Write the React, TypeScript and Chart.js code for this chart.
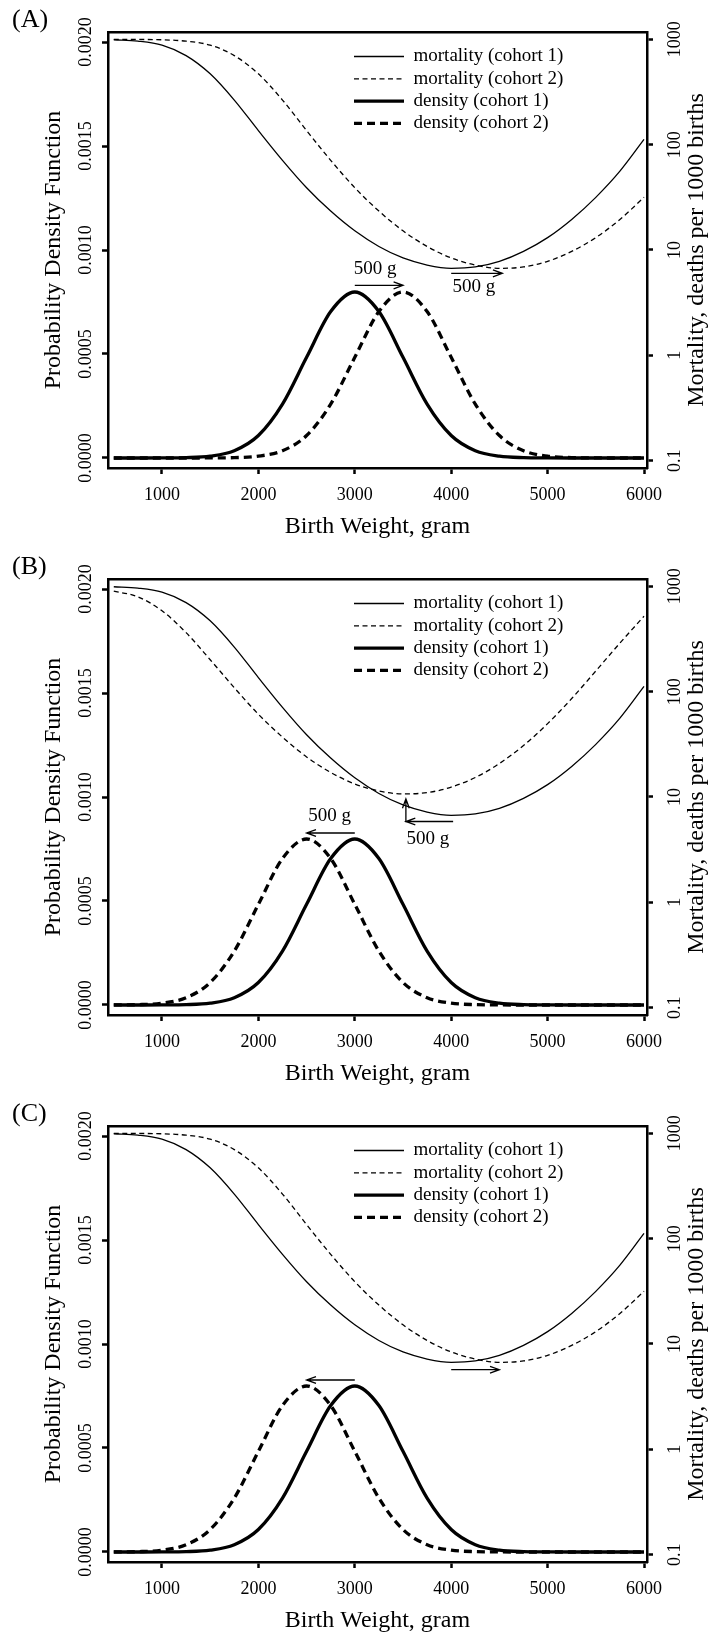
import React, { useEffect, useRef } from "react";
import { Chart, registerables } from "chart.js";

Chart.register(...registerables);

const SERIF = "'Liberation Serif', 'Times New Roman', Times, serif";

// ---------------- data ----------------
const birthWeights = [500, 750, 1000, 1250, 1500, 1750, 2000, 2250, 2500, 2750, 3000, 3250, 3500, 3750, 4000, 4250, 4500, 4750, 5000, 5250, 5500, 5750, 6000];

const xTickValues = [1000, 2000, 3000, 4000, 5000, 6000];
const densityTickValues = [0, 0.0005, 0.001, 0.0015, 0.002];
const mortalityTickValues = [0.1, 1, 10, 100, 1000];

// mortality, deaths per 1000 births
const mortalityCohort1 = [990, 960, 880, 700, 470, 265, 136, 71, 39, 23.4, 15.2, 10.8, 8.4, 7.2, 6.7, 6.9, 7.8, 9.7, 13.1, 19.5, 31.6, 56, 112];
const mortalityCohort2A = [999, 997, 990, 960, 880, 700, 470, 265, 136, 71, 39, 23.4, 15.2, 10.8, 8.4, 7.2, 6.7, 6.9, 7.8, 9.7, 13.1, 19.5, 31.6];
const mortalityCohort2B = [900, 794, 586, 363, 201, 109, 61, 37, 24, 17.1, 13.3, 11.4, 10.7, 11.0, 12.4, 15.3, 20.8, 30.8, 49.7, 86, 157, 289, 520];
const mortalityCohort2C = [999, 997, 990, 960, 880, 700, 470, 265, 136, 71, 39, 23.4, 15.2, 10.8, 8.4, 7.2, 6.7, 6.9, 7.8, 9.7, 13.1, 19.5, 31.6];

// probability density
const densityCohort1 = [0, 0, 0.0000003, 0.0000017, 0.0000089, 0.000035, 0.000108, 0.000259, 0.000484, 0.000704, 0.000798, 0.000704, 0.000484, 0.000259, 0.000108, 0.000035, 0.0000089, 0.0000017, 0.0000003, 0, 0, 0, 0];
const densityCohort2A = [0, 0, 0, 0, 0.0000003, 0.0000017, 0.0000089, 0.000035, 0.000108, 0.000259, 0.000484, 0.000704, 0.000798, 0.000704, 0.000484, 0.000259, 0.000108, 0.000035, 0.0000089, 0.0000017, 0.0000003, 0, 0];
const densityCohort2B = [0.0000003, 0.0000017, 0.0000089, 0.000035, 0.000108, 0.000259, 0.000484, 0.000704, 0.000798, 0.000704, 0.000484, 0.000259, 0.000108, 0.000035, 0.0000089, 0.0000017, 0.0000003, 0, 0, 0, 0, 0, 0];
const densityCohort2C = [0.0000003, 0.0000017, 0.0000089, 0.000035, 0.000108, 0.000259, 0.000484, 0.000704, 0.000798, 0.000704, 0.000484, 0.000259, 0.000108, 0.000035, 0.0000089, 0.0000017, 0.0000003, 0, 0, 0, 0, 0, 0];

const legendLabels = ["mortality (cohort 1)", "mortality (cohort 2)", "density (cohort 1)", "density (cohort 2)"];
const panelLetters = ["(A)", "(B)", "(C)"];
const xTitle = "Birth Weight, gram";
const leftTitle = "Probability Density Function";
const rightTitle = "Mortality, deaths per 1000 births";
const shiftText = "500 g";

// annotation arrows in data units: [x1, y1, x2, y2]
const arrowsA = { density: [[3000, 0.00083, 3500, 0.00083]], mortality: [[4000, 6.0, 4530, 6.0]] };
const notesA = { density: [[3210, 0.00091]], mortality: [[4235, 4.5]] };
const arrowsB = { density: [[3000, 0.000827, 2500, 0.000827]], mortality: [[4020, 5.85, 3530, 5.85], [3530, 5.75, 3530, 9.6]] };
const notesB = { density: [[2740, 0.00091]], mortality: [[3757, 3.95]] };
const arrowsC = { density: [[3000, 0.000827, 2500, 0.000827]], mortality: [[4000, 5.7, 4500, 5.7]] };
const notesC = { density: [] as number[][], mortality: [] as number[][] };

// ---------------- layout ----------------
const W = 719;
const PANEL_TOPS = [0, 547, 1094];
const PANEL_HEIGHTS = [547, 547, 541];
const PLOT_LEFT = 108;
const PLOT_RIGHT = 647;
const PLOT_TOP = 32;
const PLOT_BOTTOM = 468;

const panels = [
  { m2: mortalityCohort2A, d2: densityCohort2A, arrows: arrowsA, notes: notesA },
  { m2: mortalityCohort2B, d2: densityCohort2B, arrows: arrowsB, notes: notesB },
  { m2: mortalityCohort2C, d2: densityCohort2C, arrows: arrowsC, notes: notesC },
];

const toXY = (vals: number[]) => birthWeights.map((w, i) => ({ x: w, y: vals[i] }));

function drawArrow(ctx: CanvasRenderingContext2D, x1: number, y1: number, x2: number, y2: number) {
  const ang = Math.atan2(y2 - y1, x2 - x1);
  const len = 10;
  const spread = (20 * Math.PI) / 180;
  ctx.beginPath();
  ctx.moveTo(x1, y1);
  ctx.lineTo(x2, y2);
  ctx.moveTo(x2 - len * Math.cos(ang - spread), y2 - len * Math.sin(ang - spread));
  ctx.lineTo(x2, y2);
  ctx.lineTo(x2 - len * Math.cos(ang + spread), y2 - len * Math.sin(ang + spread));
  ctx.stroke();
}

function makeDecor(idx: number) {
  const p = panels[idx];
  return {
    id: "panelDecor" + idx,
    beforeDraw(chart: any) {
      const lg = chart.legend;
      if (lg) {
        lg.left = 350.7;
        lg.top = 43.7;
        lg.right = 630;
        lg.bottom = 260;
      }
    },
    afterDraw(chart: any) {
      const ctx: CanvasRenderingContext2D = chart.ctx;
      const xs = chart.scales.x;
      const ys = chart.scales.y;
      const y2s = chart.scales.y2;
      ctx.save();
      ctx.strokeStyle = "black";
      ctx.fillStyle = "black";
      ctx.lineWidth = 1.3;
      ctx.setLineDash([]);
      for (const a of p.arrows.density) {
        drawArrow(ctx, xs.getPixelForValue(a[0]), ys.getPixelForValue(a[1]), xs.getPixelForValue(a[2]), ys.getPixelForValue(a[3]));
      }
      for (const a of p.arrows.mortality) {
        drawArrow(ctx, xs.getPixelForValue(a[0]), y2s.getPixelForValue(a[1]), xs.getPixelForValue(a[2]), y2s.getPixelForValue(a[3]));
      }
      ctx.font = `19px ${SERIF}`;
      ctx.textAlign = "center";
      ctx.textBaseline = "middle";
      for (const n of p.notes.density) {
        ctx.fillText(shiftText, xs.getPixelForValue(n[0]), ys.getPixelForValue(n[1]));
      }
      for (const n of p.notes.mortality) {
        ctx.fillText(shiftText, xs.getPixelForValue(n[0]), y2s.getPixelForValue(n[1]));
      }
      // right axis title (reads bottom to top)
      const ca = chart.chartArea;
      ctx.save();
      ctx.translate(ca.right + 50, (ca.top + ca.bottom) / 2);
      ctx.rotate(-Math.PI / 2);
      ctx.font = `24px ${SERIF}`;
      ctx.fillText(rightTitle, 0, 0);
      ctx.restore();
      // panel letter
      ctx.font = `26px ${SERIF}`;
      ctx.textAlign = "left";
      ctx.textBaseline = "alphabetic";
      ctx.fillText(panelLetters[idx], 12, 27);
      ctx.restore();
    },
  };
}

function Panel({ idx }: { idx: number }) {
  const ref = useRef<HTMLCanvasElement | null>(null);
  const H = PANEL_HEIGHTS[idx];
  useEffect(() => {
    const p = panels[idx];
    const grid = {
      display: true,
      drawOnChartArea: false,
      drawTicks: true,
      tickLength: 6,
      tickWidth: 2.5,
      tickColor: "black",
    };
    const border = { display: true, color: "black", width: 2.5 };
    const chart = new Chart(ref.current as HTMLCanvasElement, {
      type: "line",
      data: {
        datasets: [
          { label: legendLabels[0], data: toXY(mortalityCohort1), yAxisID: "y2", borderColor: "black", borderWidth: 1.3, pointRadius: 0, cubicInterpolationMode: "monotone", fill: false },
          { label: legendLabels[1], data: toXY(p.m2), yAxisID: "y2", borderColor: "black", borderWidth: 1.3, borderDash: [5, 3.5], pointRadius: 0, cubicInterpolationMode: "monotone", fill: false },
          { label: legendLabels[2], data: toXY(densityCohort1), yAxisID: "y", borderColor: "black", borderWidth: 3.3, pointRadius: 0, cubicInterpolationMode: "monotone", fill: false },
          { label: legendLabels[3], data: toXY(p.d2), yAxisID: "y", borderColor: "black", borderWidth: 3.3, borderDash: [8, 5], pointRadius: 0, cubicInterpolationMode: "monotone", fill: false },
        ] as any,
      },
      options: {
        animation: false,
        responsive: false,
        devicePixelRatio: 1,
        events: [],
        layout: { padding: 0, autoPadding: false },
        plugins: {
          tooltip: { enabled: false },
          title: { display: false },
          legend: {
            display: true,
            position: "chartArea",
            align: "start",
            labels: {
              usePointStyle: true,
              pointStyle: "line",
              pointStyleWidth: 50,
              boxHeight: 19,
              padding: 3.3,
              color: "black",
              font: { family: SERIF, size: 19 },
              generateLabels: (c: any) =>
                c.data.datasets.map((ds: any, i: number) => ({
                  text: ds.label,
                  datasetIndex: i,
                  fillStyle: "black",
                  strokeStyle: "black",
                  fontColor: "black",
                  lineWidth: ds.borderWidth,
                  lineDash: ds.borderDash || [],
                  lineCap: "butt",
                  pointStyle: "line",
                  hidden: false,
                })),
            },
          },
        } as any,
        scales: {
          x: {
            type: "linear",
            position: "bottom",
            min: 440,
            max: 6031,
            bounds: "data",
            afterBuildTicks: (s: any) => {
              s.ticks = xTickValues.map((v) => ({ value: v }));
            },
            afterFit: (s: any) => {
              s.height = H - PLOT_BOTTOM;
            },
            ticks: { autoSkip: false, maxRotation: 0, minRotation: 0, padding: 10, color: "black", font: { family: SERIF, size: 18 }, callback: (v: any) => String(v) },
            grid,
            border,
            title: { display: true, text: xTitle, color: "black", font: { family: SERIF, size: 24 }, padding: { top: 0, bottom: H - 527 - 14.4 } },
          },
          xTop: {
            type: "linear",
            position: "top",
            min: 440,
            max: 6031,
            ticks: { display: false },
            grid: { display: false, drawTicks: false },
            border,
            afterFit: (s: any) => {
              s.height = PLOT_TOP;
            },
          },
          y: {
            type: "linear",
            position: "left",
            min: -0.0000481,
            max: 0.0020481,
            bounds: "data",
            afterBuildTicks: (s: any) => {
              s.ticks = densityTickValues.map((v) => ({ value: v }));
            },
            afterFit: (s: any) => {
              s.width = PLOT_LEFT;
            },
            ticks: { autoSkip: false, minRotation: 90, maxRotation: 90, crossAlign: "center", padding: -9.5, color: "black", font: { family: SERIF, size: 18 }, callback: (v: any) => Number(v).toFixed(4) },
            grid,
            border,
            title: { display: true, text: leftTitle, color: "black", font: { family: SERIF, size: 24 }, padding: { top: 39.6, bottom: 0 } },
          },
          y2: {
            type: "logarithmic",
            position: "right",
            min: 0.0852,
            max: 1173,
            bounds: "data",
            afterBuildTicks: (s: any) => {
              s.ticks = mortalityTickValues.map((v) => ({ value: v }));
            },
            afterFit: (s: any) => {
              s.width = W - PLOT_RIGHT;
            },
            ticks: { autoSkip: false, minRotation: 90, maxRotation: 90, crossAlign: "center", padding: 4, color: "black", font: { family: SERIF, size: 18 }, callback: (v: any) => String(v) },
            grid,
            border,
            title: { display: false },
          },
        } as any,
      },
      plugins: [makeDecor(idx)],
    });
    return () => chart.destroy();
  }, [idx]);
  return (
    <canvas
      ref={ref}
      width={W}
      height={H}
      style={{ position: "absolute", left: 0, top: PANEL_TOPS[idx], width: W, height: H, display: "block" }}
    />
  );
}

export default function App() {
  return (
    <div style={{ position: "absolute", left: 0, top: 0, width: W, height: 1635, background: "white", overflow: "hidden" }}>
      <Panel idx={0} />
      <Panel idx={1} />
      <Panel idx={2} />
    </div>
  );
}
